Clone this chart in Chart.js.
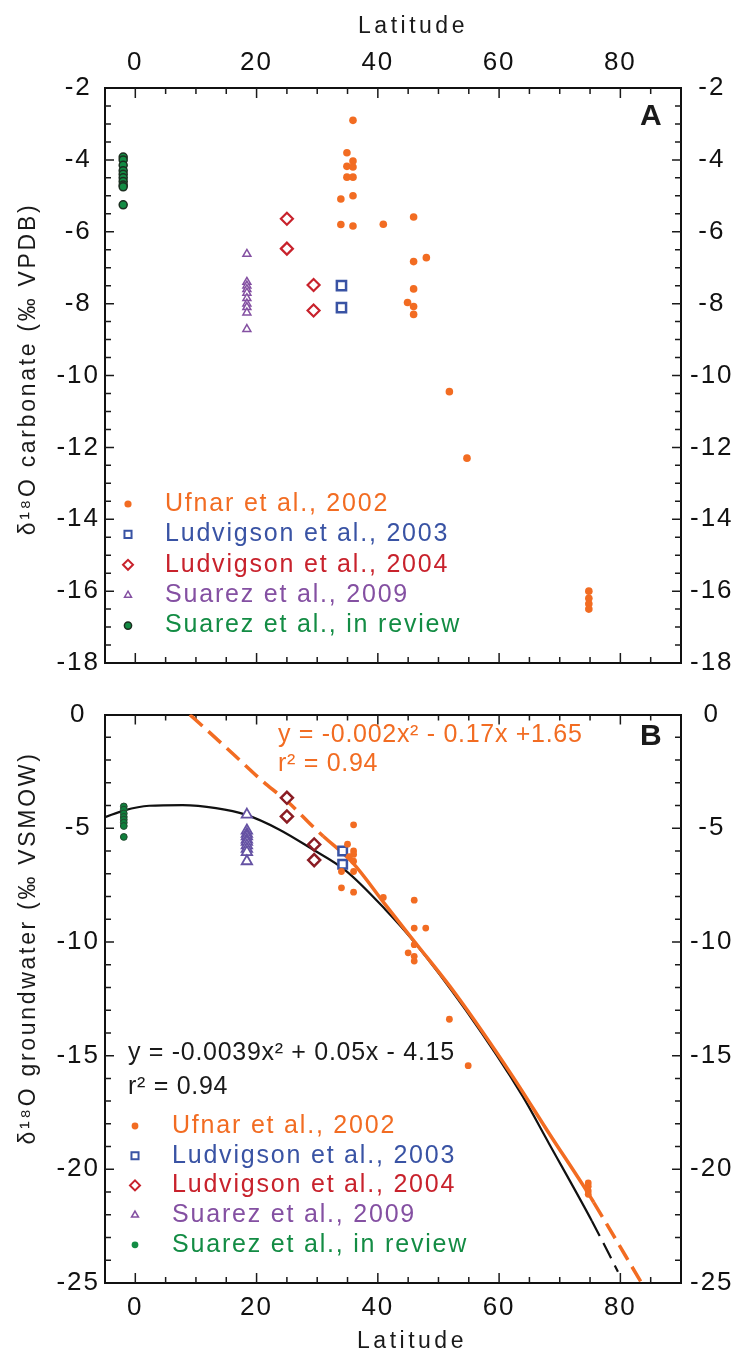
<!DOCTYPE html>
<html>
<head>
<meta charset="utf-8">
<title>δ18O versus latitude</title>
<script src="https://cdn.jsdelivr.net/npm/chart.js@4.4.1/dist/chart.umd.min.js"></script>
<style>
    html, body { margin: 0; padding: 0; background: #fff; }
    canvas { display: block; }
</style>
</head>
<body>
<canvas id="chartA" width="737" height="690"></canvas>
<canvas id="chartB" width="737" height="667"></canvas>
<script>
// axes
const xMin = -5
const xMax = 90
const xTickLabels = [0, 20, 40, 60, 80]
const yTicksA = [-2, -4, -6, -8, -10, -12, -14, -16, -18]
const yTicksB = [0, -5, -10, -15, -20, -25]
const xTitle = 'Latitude'
const yTitleA = 'δ¹⁸O carbonate (‰ VPDB)'
const yTitleB = 'δ¹⁸O groundwater (‰ VSMOW)'

// series
const seriesNames = ['Ufnar et al., 2002', 'Ludvigson et al., 2003', 'Ludvigson et al., 2004', 'Suarez et al., 2009', 'Suarez et al., in review']
const seriesColors = ['#f26c22', '#3953a4', '#c8222c', '#8450a2', '#138c44']

// A - carbonate
const ufnarLatA = [35.9, 34.9, 35.9, 34.9, 35.9, 34.9, 35.9, 35.9, 33.9, 33.9, 35.9, 40.9, 45.9, 48.0, 45.9, 45.9, 44.9, 45.9, 45.9, 51.8, 54.7, 74.8, 74.8, 74.8, 74.8]
const ufnarA = [-2.9, -3.8, -4.03, -4.18, -4.2, -4.48, -4.48, -5.0, -5.09, -5.8, -5.84, -5.79, -5.59, -6.72, -6.83, -7.59, -7.97, -8.08, -8.3, -10.45, -12.3, -16.0, -16.2, -16.35, -16.5]
const ludv03LatA = [34.0, 34.0]
const ludv03A = [-7.5, -8.11]
const ludv04LatA = [25.0, 25.0, 29.4, 29.4]
const ludv04A = [-5.64, -6.47, -7.48, -8.19]
const suarez09LatA = [18.4, 18.4, 18.4, 18.4, 18.4, 18.4, 18.4, 18.4, 18.4, 18.4]
const suarez09A = [-6.62, -7.4, -7.5, -7.6, -7.7, -7.85, -8.0, -8.1, -8.25, -8.71]
const suarezRevLatA = [-2.0, -2.0, -2.0, -2.0, -2.0, -2.0, -2.0, -2.0, -2.0, -2.0]
const suarezRevA = [-3.92, -4.0, -4.15, -4.3, -4.4, -4.5, -4.6, -4.7, -4.75, -5.25]

// B - groundwater
const ufnarLatB = [36.0, 35.0, 36.0, 36.0, 35.3, 36.0, 34.0, 36.0, 34.0, 36.0, 40.9, 46.0, 46.0, 47.9, 46.0, 45.0, 46.0, 46.0, 51.8, 54.9, 74.7, 74.7, 74.7, 74.7]
const ufnarB = [-4.85, -5.7, -6.0, -6.15, -6.25, -6.45, -6.9, -6.9, -7.62, -7.81, -8.04, -8.16, -9.39, -9.39, -10.12, -10.48, -10.63, -10.84, -13.4, -15.44, -20.6, -20.75, -20.95, -21.1]
const ludv03LatB = [34.2, 34.2]
const ludv03B = [-6.0, -6.58]
const ludv04LatB = [25.0, 25.0, 29.5, 29.5]
const ludv04B = [-3.66, -4.48, -5.71, -6.4]
const suarez09LatB = [18.4, 18.4, 18.4, 18.4, 18.4, 18.4, 18.4, 18.4, 18.4, 18.4]
const suarez09B = [-4.4, -5.1, -5.25, -5.35, -5.5, -5.6, -5.75, -5.9, -6.05, -6.45]
const suarezRevLatB = [-1.9, -1.9, -1.9, -1.9, -1.9, -1.9, -1.9, -1.9]
const suarezRevB = [-4.04, -4.18, -4.35, -4.5, -4.62, -4.75, -4.9, -5.38]

// fitted curves
const orangeFitLat = [9.0, 16.0, 21.5, 25.1, 29.2, 31.0, 35.8, 41.3, 46.0, 52.8, 62.2, 68.2, 74.8, 75.6, 83.5]
const orangeFit = [0, -1.7, -3.05, -3.82, -4.9, -5.35, -6.5, -8.38, -9.97, -12.28, -15.9, -18.4, -21.1, -21.45, -25.0]
const blackFitLat = [-5, -1.8, 2.3, 7.8, 13.3, 18.2, 23.7, 29.2, 34.7, 41.3, 46.0, 54.5, 63.8, 68.2, 75.3, 79.6]
const blackFit = [-4.51, -4.21, -4.01, -3.98, -4.11, -4.4, -5.05, -5.92, -6.86, -8.59, -10.0, -13.0, -16.75, -18.85, -22.27, -24.5]
const orangeSolidFrom = 31
const orangeSolidTo = 75.6
const blackSolidTo = 75.3
const eqOrange = ['y = -0.002x² - 0.17x +1.65', 'r² = 0.94']
const eqBlack = ['y = -0.0039x² + 0.05x - 4.15', 'r² = 0.94']

const fontFamily = "'Liberation Sans', Arial, Helvetica, sans-serif"
Chart.defaults.font.family = fontFamily
Chart.defaults.font.size = 26
Chart.defaults.color = '#111'

const toPoints = (lats, vals) => lats.map((lat, i) => ({x: lat, y: vals[i]}))
const dash = [17, 8]

// tick labels in the original are loosely spaced
const spacing = {
    id: 'spacing',
    beforeLayout: chart => { chart.ctx.letterSpacing = '2px' },
    beforeDraw: chart => { chart.ctx.letterSpacing = '2px' }
}

// tick marks point into the plot on all four sides
const innerTicks = {
    id: 'innerTicks',
    beforeDatasetsDraw(chart, args, opts) {
        const {ctx, chartArea: {left, right, top, bottom}, scales: {x, y}} = chart
        const marks = (scale, step, major) => {
            let out = []
            const n = Math.round((scale.max - scale.min) / step)
            for (let i = 1; i < n; i++) {
                const v = scale.min + i * step
                const r = v / major
                out.push({px: scale.getPixelForValue(v), major: Math.abs(r - Math.round(r)) < 1e-6})
            }
            return out
        }
        ctx.save()
        ctx.strokeStyle = '#1a1a1a'
        ctx.lineWidth = 1.5
        ctx.beginPath()
        marks(x, opts.xStep, opts.xMajor).forEach(m => {
            const len = m.major ? 10 : 6
            ctx.moveTo(m.px, top)
            ctx.lineTo(m.px, top + len)
            ctx.moveTo(m.px, bottom)
            ctx.lineTo(m.px, bottom - len)
        })
        marks(y, opts.yStep, opts.yMajor).forEach(m => {
            const len = m.major ? 9 : 6
            ctx.moveTo(left, m.px)
            ctx.lineTo(left + len, m.px)
            ctx.moveTo(right, m.px)
            ctx.lineTo(right - len, m.px)
        })
        ctx.stroke()
        ctx.restore()
    }
}

// axis titles, panel letter, fit equations and the in-plot legend
const annotate = {
    id: 'annotate',
    afterDraw(chart, args, opts) {
        const ctx = chart.ctx
        ctx.save()
        ctx.textBaseline = 'middle'
        ctx.textAlign = 'center'
        ctx.font = `23px ${fontFamily}`
        ctx.fillStyle = '#1a1a1a'
        opts.titles.forEach(t => {
            ctx.save()
            ctx.letterSpacing = t.spacing
            ctx.translate(t.x, t.y)
            ctx.rotate(t.rotate ? -Math.PI / 2 : 0)
            ctx.fillText(t.text, 0, 0)
            ctx.restore()
        })

        ctx.textAlign = 'left'
        ctx.letterSpacing = '0px'
        ctx.font = `bold 30px ${fontFamily}`
        ctx.fillText(opts.letter, opts.letterX, opts.letterY)

        ctx.font = `25px ${fontFamily}`
        ctx.letterSpacing = '0.7px'
        opts.equations.forEach(eq => {
            ctx.fillStyle = eq.color
            eq.lines.forEach((line, i) => ctx.fillText(line, eq.x, eq.y + i * eq.gap))
        })

        ctx.letterSpacing = '1.8px'
        chart.data.datasets.filter(d => d.legendRadius).forEach((d, i) => {
            const y = opts.legendY + i * opts.legendGap
            ctx.fillStyle = d.legendFill
            ctx.strokeStyle = d.legendStroke
            ctx.lineWidth = d.legendBorder
            Chart.helpers.drawPoint(ctx, {pointStyle: d.pointStyle, radius: d.legendRadius, rotation: 0, borderWidth: d.legendBorder}, opts.legendX, y)
            ctx.fillStyle = d.legendColor
            ctx.fillText(d.label, opts.legendTextX, y)
        })
        ctx.restore()
    }
}

const buildScales = (yTicks, labelsOnTop, sizes) => {
    const frame = {display: true, color: '#111', width: 2}
    const noGrid = {display: false, drawTicks: false}
    const xList = s => { s.ticks = xTickLabels.map(v => ({value: v})) }
    const yList = s => { s.ticks = yTicks.map(v => ({value: v})) }
    const yMin = Math.min(...yTicks)
    const yMax = Math.max(...yTicks)
    return {
        x: {
            type: 'linear', position: 'bottom', min: xMin, max: xMax,
            grid: noGrid, border: frame, afterBuildTicks: xList,
            afterFit: s => { s.height = sizes.bottom },
            ticks: {display: !labelsOnTop, padding: 9}
        },
        x2: {
            type: 'linear', position: 'top', min: xMin, max: xMax,
            grid: noGrid, border: frame, afterBuildTicks: xList,
            afterFit: s => { s.height = sizes.top },
            ticks: {display: labelsOnTop, padding: 10}
        },
        y: {
            type: 'linear', position: 'left', min: yMin, max: yMax,
            grid: noGrid, border: frame, afterBuildTicks: yList,
            afterFit: s => { s.width = 105 },
            ticks: {crossAlign: 'center', padding: 5}
        },
        y2: {
            type: 'linear', position: 'right', min: yMin, max: yMax,
            grid: noGrid, border: frame, afterBuildTicks: yList,
            afterFit: s => { s.width = 56 },
            ticks: {crossAlign: 'center', padding: 9}
        }
    }
}

const makeChart = (canvasId, datasets, scales, tickOpts, notes) => new Chart(document.getElementById(canvasId), {
    type: 'scatter',
    data: {datasets},
    options: {
        responsive: false,
        animation: false,
        events: [],
        layout: {padding: 0, autoPadding: false},
        plugins: {
            legend: {display: false},
            tooltip: {enabled: false},
            innerTicks: tickOpts,
            annotate: notes
        },
        scales
    },
    plugins: [spacing, innerTicks, annotate]
})

// panel A
const datasetsA = [
    {
        label: seriesNames[0], data: toPoints(ufnarLatA, ufnarA),
        pointStyle: 'circle', pointRadius: 3.8, pointBackgroundColor: seriesColors[0], pointBorderWidth: 0,
        legendRadius: 3.6, legendFill: seriesColors[0], legendStroke: seriesColors[0], legendBorder: 0, legendColor: seriesColors[0]
    },
    {
        label: seriesNames[1], data: toPoints(ludv03LatA, ludv03A),
        pointStyle: 'rect', pointRadius: 6.5, pointBackgroundColor: '#fff', pointBorderColor: seriesColors[1], pointBorderWidth: 2.5,
        legendRadius: 5, legendFill: '#fff', legendStroke: seriesColors[1], legendBorder: 2, legendColor: seriesColors[1]
    },
    {
        label: seriesNames[2], data: toPoints(ludv04LatA, ludv04A),
        pointStyle: 'rectRot', pointRadius: 6, pointBackgroundColor: '#fff', pointBorderColor: seriesColors[2], pointBorderWidth: 2.2,
        legendRadius: 5, legendFill: '#fff', legendStroke: seriesColors[2], legendBorder: 2, legendColor: seriesColors[2]
    },
    {
        label: seriesNames[3], data: toPoints(suarez09LatA, suarez09A),
        pointStyle: 'triangle', pointRadius: 4.6, pointBackgroundColor: '#fff', pointBorderColor: seriesColors[3], pointBorderWidth: 1.5,
        legendRadius: 4, legendFill: '#fff', legendStroke: seriesColors[3], legendBorder: 1.5, legendColor: seriesColors[3]
    },
    {
        label: seriesNames[4], data: toPoints(suarezRevLatA, suarezRevA),
        pointStyle: 'circle', pointRadius: 4, pointBackgroundColor: seriesColors[4], pointBorderColor: '#1c2e20', pointBorderWidth: 1.5,
        legendRadius: 3.6, legendFill: seriesColors[4], legendStroke: '#1c2e20', legendBorder: 1.5, legendColor: seriesColors[4]
    }
]

makeChart('chartA', datasetsA,
    buildScales(yTicksA, true, {top: 88, bottom: 27}),
    {xStep: 5, xMajor: 20, yStep: 0.5, yMajor: 2},
    {
        titles: [
            {text: xTitle, x: 413, y: 27, spacing: '3.5px'},
            {text: yTitleA, x: 29, y: 369, rotate: true, spacing: '2.7px'}
        ],
        letter: 'A', letterX: 640, letterY: 117, equations: [],
        legendX: 128, legendTextX: 165, legendY: 504, legendGap: 30.4
    }
)

// panel B
const datasetsB = [
    {
        label: seriesNames[0], data: toPoints(ufnarLatB, ufnarB),
        pointStyle: 'circle', pointRadius: 3.4, pointBackgroundColor: seriesColors[0], pointBorderWidth: 0,
        legendRadius: 3.4, legendFill: seriesColors[0], legendStroke: seriesColors[0], legendBorder: 0, legendColor: seriesColors[0]
    },
    {
        label: seriesNames[1], data: toPoints(ludv03LatB, ludv03B),
        pointStyle: 'rect', pointRadius: 6, pointBackgroundColor: '#fff', pointBorderColor: seriesColors[1], pointBorderWidth: 2.5,
        legendRadius: 5, legendFill: '#fff', legendStroke: seriesColors[1], legendBorder: 2, legendColor: seriesColors[1]
    },
    {
        label: seriesNames[2], data: toPoints(ludv04LatB, ludv04B),
        pointStyle: 'rectRot', pointRadius: 6, pointBackgroundColor: '#fff', pointBorderColor: '#8b1d24', pointBorderWidth: 2.5,
        legendRadius: 5, legendFill: '#fff', legendStroke: seriesColors[2], legendBorder: 2, legendColor: seriesColors[2]
    },
    {
        label: seriesNames[3], data: toPoints(suarez09LatB, suarez09B),
        pointStyle: 'triangle', pointRadius: 6, pointBackgroundColor: '#fff', pointBorderColor: '#6552a3', pointBorderWidth: 1.8,
        legendRadius: 4, legendFill: '#fff', legendStroke: seriesColors[3], legendBorder: 1.5, legendColor: seriesColors[3]
    },
    {
        label: seriesNames[4], data: toPoints(suarezRevLatB, suarezRevB),
        pointStyle: 'circle', pointRadius: 3.4, pointBackgroundColor: '#0f7f3c', pointBorderColor: '#24482f', pointBorderWidth: 1,
        legendRadius: 3.4, legendFill: seriesColors[4], legendStroke: seriesColors[4], legendBorder: 0, legendColor: seriesColors[4]
    },
    {
        type: 'line', label: 'fit (all data)', data: toPoints(orangeFitLat, orangeFit),
        pointRadius: 0, borderColor: seriesColors[0], borderWidth: 3.5, cubicInterpolationMode: 'monotone',
        segment: {borderDash: ctx => (ctx.p0.parsed.x < orangeSolidFrom || ctx.p0.parsed.x >= orangeSolidTo) ? dash : undefined}
    },
    {
        type: 'line', label: 'fit', data: toPoints(blackFitLat, blackFit),
        pointRadius: 0, borderColor: '#111', borderWidth: 2.2, cubicInterpolationMode: 'monotone',
        segment: {borderDash: ctx => ctx.p0.parsed.x >= blackSolidTo ? dash : undefined}
    }
]

makeChart('chartB', datasetsB,
    buildScales(yTicksB, false, {top: 17, bottom: 74}),
    {xStep: 5, xMajor: 20, yStep: 1, yMajor: 5},
    {
        titles: [
            {text: xTitle, x: 412, y: 652, spacing: '3.5px'},
            {text: yTitleB, x: 29, y: 258, rotate: true, spacing: '2.7px'}
        ],
        letter: 'B', letterX: 640, letterY: 47,
        equations: [
            {lines: eqOrange, color: seriesColors[0], x: 278, y: 45, gap: 29},
            {lines: eqBlack, color: '#1a1a1a', x: 128, y: 363, gap: 34}
        ],
        legendX: 135, legendTextX: 172, legendY: 436, legendGap: 29.7
    }
)
</script>
</body>
</html>
